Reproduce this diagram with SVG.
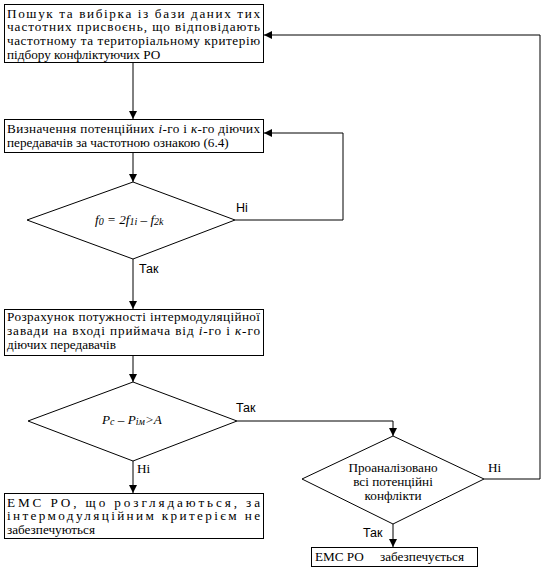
<svg xmlns="http://www.w3.org/2000/svg" width="544" height="569" viewBox="0 0 544 569">
<style>
.box{fill:#fff;stroke:#000;stroke-width:1}
.dia{fill:#fff;stroke:#000;stroke-width:1}
.ln{fill:none;stroke:#000;stroke-width:1}
text{fill:#000}
.t{font-family:'Liberation Serif','DejaVu Serif',serif;font-size:13.2px}
.s{font-family:'Liberation Sans','DejaVu Sans',sans-serif;font-size:12.5px}
.i{font-style:italic}
</style>
<defs>
<marker id="ah" markerWidth="8" markerHeight="8" refX="8" refY="4" orient="auto" markerUnits="userSpaceOnUse">
<path d="M0,0 L8,4 L0,8 Z" fill="#000"/>
</marker>
</defs>
<rect width="544" height="569" fill="#fff"/>
<g id="connectors">
<line class="ln" x1="133" y1="63" x2="133" y2="119" marker-end="url(#ah)"/>
<line class="ln" x1="133" y1="153" x2="133" y2="182" marker-end="url(#ah)"/>
<polyline class="ln" points="235,220 343,220 343,133 264,133" marker-end="url(#ah)"/>
<line class="ln" x1="133" y1="259" x2="133" y2="309" marker-end="url(#ah)"/>
<line class="ln" x1="133" y1="356" x2="133" y2="382" marker-end="url(#ah)"/>
<line class="ln" x1="133" y1="461" x2="133" y2="493" marker-end="url(#ah)"/>
<polyline class="ln" points="237,421 393,421 393,436" marker-end="url(#ah)"/>
<line class="ln" x1="393" y1="524" x2="393" y2="547" marker-end="url(#ah)"/>
<polyline class="ln" points="484,479 540,479 540,35 264,35" marker-end="url(#ah)"/>
<text class="s" x="236" y="212">Ні</text>
<text class="s" x="139" y="273">Так</text>
<text class="s" x="236" y="412">Так</text>
<text class="t" x="137" y="473">Ні</text>
<text class="t" x="488" y="472">Ні</text>
<text class="s" x="363" y="537">Так</text>
</g>
<g id="n1">
<rect class="box" x="4.5" y="4.5" width="259" height="58"/>
<text class="t" x="7" y="17.5" textLength="253" lengthAdjust="spacing">Пошук та вибірка із бази даних тих</text>
<text class="t" x="7" y="31" textLength="253" lengthAdjust="spacing">частотних присвоєнь, що відповідають</text>
<text class="t" x="7" y="45" textLength="253" lengthAdjust="spacing">частотному та територіальному критерію</text>
<text class="t" x="7" y="59">підбору конфліктуючих  РО</text>
</g>
<g id="n2">
<rect class="box" x="4.5" y="119.5" width="259" height="33"/>
<text class="t" x="7" y="133" textLength="253" lengthAdjust="spacing">Визначення потенційних <tspan class="i">i</tspan>-го і <tspan class="i">к</tspan>-го діючих</text>
<text class="t" x="7" y="147">передавачів за частотною ознакою (6.4)</text>
</g>
<g id="d1">
<polygon class="dia" points="133,182 235,220 133,259 27,220"/>
<text class="t i" x="95" y="224">f<tspan font-size="10" dy="1">0</tspan><tspan dy="-1"> = 2f</tspan><tspan font-size="10" dy="1">1i</tspan><tspan dy="-1"> – f</tspan><tspan font-size="10" dy="1">2k</tspan></text>
</g>
<g id="n3">
<rect class="box" x="4.5" y="309.5" width="259" height="46"/>
<text class="t" x="7" y="321" textLength="253" lengthAdjust="spacing">Розрахунок потужності інтермодуляційної</text>
<text class="t" x="7" y="335" textLength="253" lengthAdjust="spacing">завади на вході приймача від <tspan class="i">i</tspan>-го і <tspan class="i">к</tspan>-го</text>
<text class="t" x="7" y="349">діючих передавачів</text>
</g>
<g id="d2">
<polygon class="dia" points="133,382 237,421 133,461 28,421"/>
<text class="t i" x="102" y="424">P<tspan font-size="10" dy="1">c</tspan><tspan dy="-1"> – P</tspan><tspan font-size="10" dy="1">ім</tspan><tspan dy="-1">&gt;A</tspan></text>
</g>
<g id="n4">
<rect class="box" x="4.5" y="493.5" width="259" height="45"/>
<text class="t" x="7" y="506.5" textLength="253" lengthAdjust="spacing">ЕМС РО, що розглядаються, за</text>
<text class="t" x="7" y="520" textLength="253" lengthAdjust="spacing">інтермодуляційним критерієм не</text>
<text class="t" x="7" y="534">забезпечуються</text>
</g>
<g id="d3">
<polygon class="dia" points="393,436 484,479 393,524 302,479"/>
<text class="t" x="393" y="472" text-anchor="middle">Проаналізовано</text>
<text class="t" x="393" y="486" text-anchor="middle">всі потенційні</text>
<text class="t" x="393" y="500" text-anchor="middle">конфлікти</text>
</g>
<g id="n5">
<rect class="box" x="311.5" y="547.5" width="166" height="19"/>
<text class="t" x="315" y="561">ЕМС РО</text>
<text class="t" x="380" y="561">забезпечується</text>
</g>
</svg>
